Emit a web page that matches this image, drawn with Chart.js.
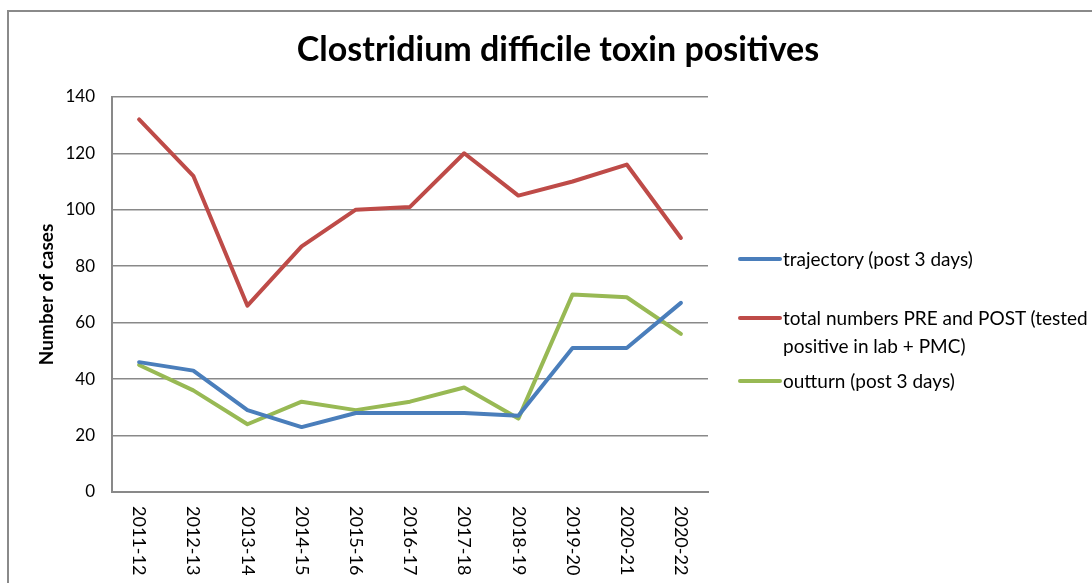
<!DOCTYPE html>
<html>
<head>
<meta charset="utf-8">
<script src="https://cdn.jsdelivr.net/npm/chart.js@4.4.1/dist/chart.umd.min.js"></script>
<style>
    html, body { margin: 0; padding: 0; background: #fff; overflow: hidden; width: 1092px; height: 583px; }
    #frame { position: absolute; left: 7px; top: 10px; width: 1100px; height: 600px; border: 2px solid #8a8a8a; }
    #frame canvas { display: block; }
    #legend { position: absolute; left: 0; top: 0; font-family: Lato, sans-serif; font-size: 19px; color: #000; }
    .item { position: absolute; left: 738px; line-height: 28px; white-space: nowrap; }
    .item .mark { position: absolute; left: 0; top: 12px; width: 44px; height: 4px; border-radius: 2px; }
    .item .text { position: absolute; left: 45px; top: 0; }
</style>
</head>
<body>
<div id="frame"><canvas id="chart" width="1100" height="600"></canvas></div>
<div id="legend"></div>
<script>
const categories = [ '2011-12', '2012-13', '2013-14', '2014-15', '2015-16', '2016-17', '2017-18', '2018-19', '2019-20', '2020-21', '2020-22' ];
const trajectory = [ 46, 43, 29, 23, 28, 28, 28, 27, 51, 51, 67 ];
const totalNumbers = [ 132, 112, 66, 87, 100, 101, 120, 105, 110, 116, 90 ];
const outturn = [ 45, 36, 24, 32, 29, 32, 37, 26, 70, 69, 56 ];
const seriesNames = [ 'trajectory (post 3 days)', 'total numbers PRE and POST (tested', 'outturn (post 3 days)' ];
const seriesNameSecondLine = [ '', 'positive in lab + PMC)', '' ];
const yTicks = [ 0, 20, 40, 60, 80, 100, 120, 140 ];

const Colors = {
    blue: '#4a7ebb',
    red: '#be4b48',
    green: '#98b954',
    grid: '#898989',
    text: '#000000'
};
const Font = 'Lato, sans-serif';

const line = ( label, data, color ) => ( {
    label: label,
    data: data,
    borderColor: color,
    backgroundColor: color,
    borderWidth: 4,
    pointRadius: 0,
    tension: 0,
    borderCapStyle: 'round',
    borderJoinStyle: 'round',
    fill: false
} );

// x labels read top-to-bottom, which the axis cannot do itself
const downLabels = {
    id: 'downLabels',
    afterDraw( chart ) {
        const
            ctx = chart.ctx,
            xs = chart.scales.x,
            top = chart.chartArea.bottom + 14;
        ctx.save();
        ctx.font = '18px ' + Font;
        ctx.fillStyle = Colors.text;
        ctx.textAlign = 'left';
        ctx.textBaseline = 'middle';
        categories.forEach( ( c, i ) => {
            ctx.save();
            ctx.translate( xs.getPixelForValue( i ), top );
            ctx.rotate( Math.PI / 2 );
            ctx.fillText( c, 0, 0 );
            ctx.restore();
        } );
        ctx.restore();
    }
};

const chart = new Chart( document.getElementById( 'chart' ), {
    type: 'line',
    data: {
        labels: categories,
        datasets: [
            line( seriesNames[ 0 ], trajectory, Colors.blue ),
            line( seriesNames[ 1 ], totalNumbers, Colors.red ),
            line( seriesNames[ 2 ], outturn, Colors.green )
        ]
    },
    options: {
        responsive: false,
        animation: false,
        devicePixelRatio: 1,
        layout: { padding: { left: 20, right: 22, top: 0, bottom: 0 } },
        scales: {
            x: {
                offset: true,
                grid: { display: false, offset: true },
                border: { color: Colors.grid, width: 2 },
                ticks: { display: false },
                afterFit( scale ) { scale.height = 120; }
            },
            y: {
                min: 0,
                max: 140,
                afterBuildTicks( scale ) { scale.ticks = yTicks.map( v => ( { value: v } ) ); },
                grid: { color: Colors.grid, lineWidth: 1.5, tickLength: 0 },
                border: { color: Colors.grid, width: 2 },
                ticks: { color: Colors.text, padding: 17, font: { family: Font, size: 17 } },
                title: {
                    display: true,
                    text: 'Number of cases',
                    color: Colors.text,
                    font: { family: Font, size: 19, weight: 'bold' },
                    padding: { top: 6, bottom: 0 }
                },
                afterFit( scale ) { scale.width = 83; }
            },
            // empty right-hand room for the legend, keeps the title centred on the whole frame
            room: {
                type: 'linear',
                position: 'right',
                display: true,
                grid: { display: false, drawOnChartArea: false },
                border: { display: false },
                ticks: { display: false },
                afterFit( scale ) { scale.width = 379; }
            }
        },
        plugins: {
            legend: { display: false },
            tooltip: { enabled: false },
            title: {
                display: true,
                text: 'Clostridium difficile toxin positives',
                color: Colors.text,
                font: { family: Font, size: 34, weight: 'bold', lineHeight: 1.2 },
                padding: { top: 18, bottom: 26 }
            }
        }
    },
    plugins: [ downLabels ]
} );

// legend built from the datasets
const legend = document.getElementById( 'legend' );
const itemTops = [ 245, 304, 367 ];
chart.data.datasets.forEach( ( ds, i ) => {
    const item = document.createElement( 'div' );
    item.className = 'item';
    item.style.top = itemTops[ i ] + 'px';
    const mark = document.createElement( 'span' );
    mark.className = 'mark';
    mark.style.background = ds.borderColor;
    const text = document.createElement( 'span' );
    text.className = 'text';
    text.innerHTML = ds.label + ( seriesNameSecondLine[ i ] ? '<br>' + seriesNameSecondLine[ i ] : '' );
    item.appendChild( mark );
    item.appendChild( text );
    legend.appendChild( item );
} );
</script>
</body>
</html>
